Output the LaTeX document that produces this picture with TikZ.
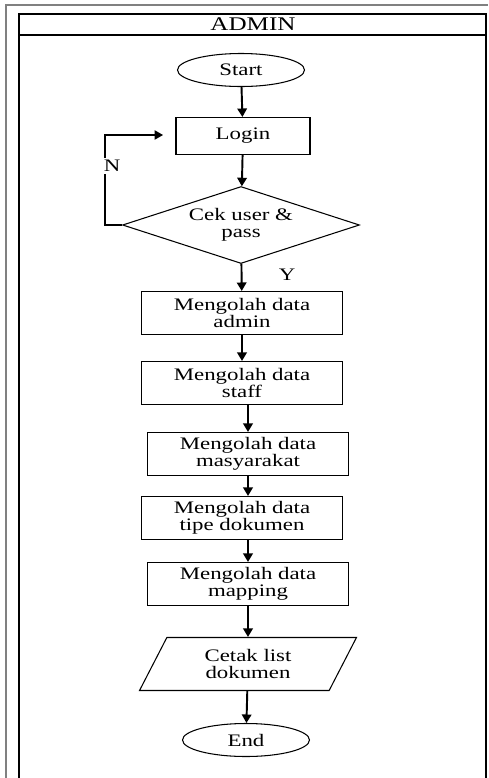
\documentclass[tikz,border=0pt]{standalone}
\usepackage{fontspec}
\setmainfont{Liberation Serif}[FakeStretch=1.3]
\usetikzlibrary{shapes.geometric, arrows.meta}

\begin{document}
\begin{tikzpicture}[x=0.02cm, y=-0.02cm,
    every node/.style={font=\fontsize{10}{9.5}\selectfont, align=center},
    terminal/.style={draw, ellipse, line width=0.6pt, minimum width=2.54cm, minimum height=0.66cm, inner sep=0pt},
    process/.style={draw, rectangle, line width=0.6pt, minimum width=4.02cm, minimum height=0.86cm, inner sep=1pt},
    decision/.style={draw, diamond, aspect=3, line width=0.6pt, minimum width=4.74cm, minimum height=1.54cm, inner sep=0pt},
    inout/.style={draw, trapezium, trapezium left angle=50, trapezium right angle=130, trapezium stretches body,
      line width=0.6pt, minimum width=4.34cm, minimum height=1.06cm, inner sep=1pt},
    flow/.style={-{Triangle[length=1.7mm,width=1.9mm]}, line width=1.1pt}]
        \useasboundingbox (0,0) rectangle (488,778);
        % frame
        \draw[gray, line width=0.6pt] (6,778) -- (6,5) -- (488,5);
        \draw[line width=1.2pt] (19,778) -- (19,14) -- (486,14) -- (486,778);
        \draw[line width=1pt] (19,35) -- (486,35);
        \node[font=\fontsize{11}{11}\selectfont] (title) at (253,24) {ADMIN};
        % steps
        \node[terminal] (start) at (241,70) {Start};
        \node[process, minimum width=2.68cm, minimum height=0.74cm] (login) at (243,136) {Login};
        \node[decision] (cek) at (241,225) {Cek user \&\\pass};
        \node[process] (admin) at (242,313) {Mengolah data\\admin};
        \node[process] (staff) at (242,383) {Mengolah data\\staff};
        \node[process] (mas) at (248,454) {Mengolah data\\masyarakat};
        \node[process] (tipe) at (242,518) {Mengolah data\\tipe dokumen};
        \node[process] (map) at (248,584) {Mengolah data\\mapping};
        \node[inout] (cetak) at (248,664) {Cetak list\\dokumen};
        \node[terminal] (end) at (246,740) {End};
        % connectors
        \draw[flow] (start) -- (login);
        \draw[flow] (login) -- (cek);
        \draw[flow] (cek) -- (admin);
        \draw[flow] (admin) -- (staff);
        \draw[flow] (staff.south -| mas.north) -- (mas.north);
        \draw[flow] (mas) -- (mas |- tipe.north);
        \draw[flow] (tipe.south -| map.north) -- (map);
        \draw[flow] (map) -- (cetak);
        \draw[flow] (cetak) -- (end);
        \coordinate (back) at (163,135);
        \draw[flow, line width=0.6pt] (cek.west) -- ++(-17,0) |- (back);
        \node[fill=white, inner sep=1pt] (no) at (112,166) {N};
        \node (yes) at (287,275) {Y};
\end{tikzpicture}
\end{document}
